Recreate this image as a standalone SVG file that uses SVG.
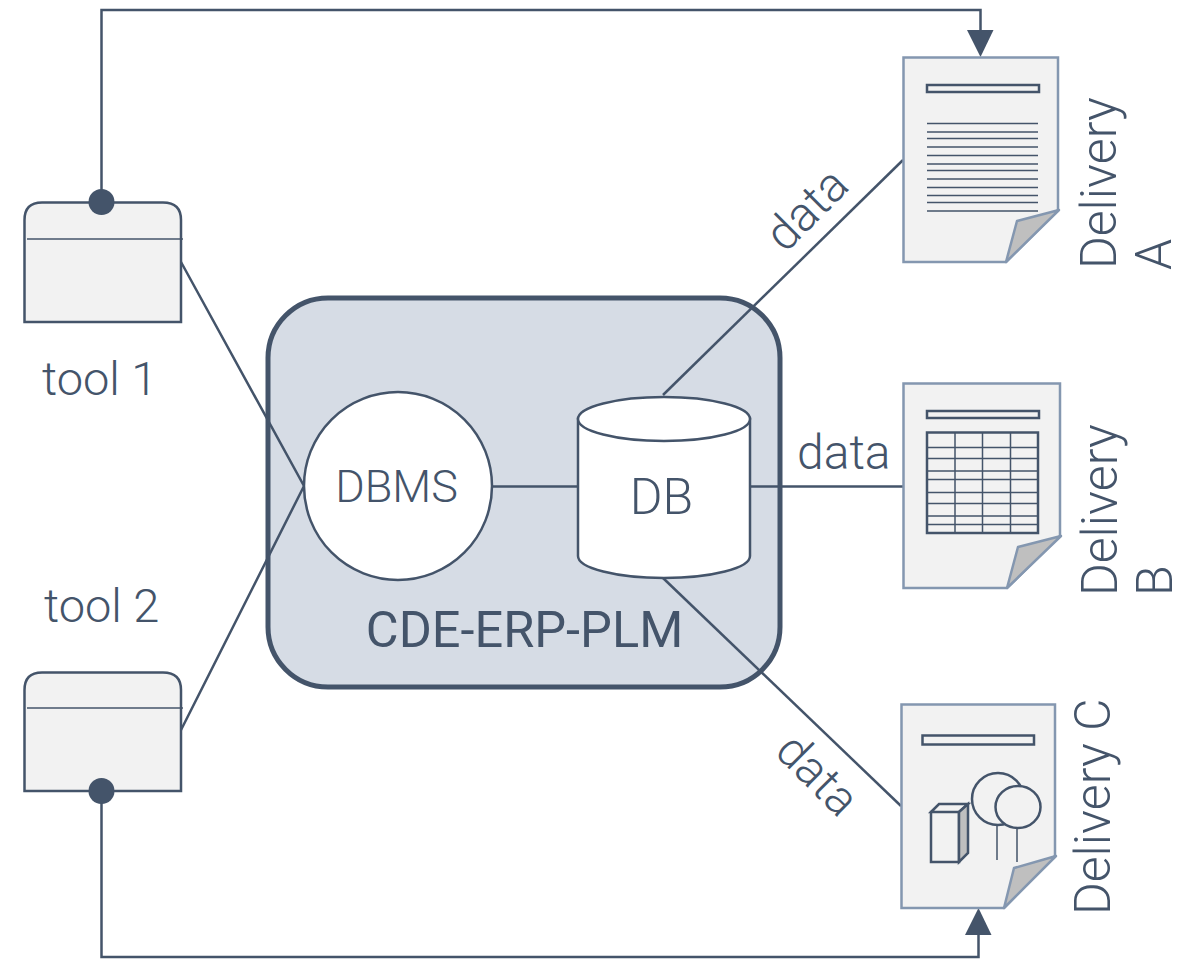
<svg xmlns="http://www.w3.org/2000/svg" width="1178" height="959" viewBox="0 0 1178 959">
<style>
text{font-family:"Roboto","Liberation Sans",sans-serif;font-weight:300;fill:#44546a;font-size:47px}
.d{font-size:50px}
.w{font-size:48px}
.c{fill:none;stroke:#44546a;stroke-width:2.5}
.page{fill:#f2f2f2;stroke:#8497b0;stroke-width:2.5}
.fold{fill:#bfbfbf;stroke:#8497b0;stroke-width:2.5;stroke-linejoin:round}
.bar{fill:#f2f2f2;stroke:#44546a;stroke-width:2.5}
.thin{fill:none;stroke:#44546a;stroke-width:1.5}
.tool{fill:#f2f2f2;stroke:#44546a;stroke-width:2.5}
.m{fill:#44546a}
</style>
<g id="platform"><rect x="268" y="298" width="512" height="389" rx="60" fill="#d6dce5" stroke="#44546a" stroke-width="5"/>
<text x="524.500" y="647" text-anchor="middle" style="font-size:50.500px;font-weight:400">CDE-ERP-PLM</text></g>
<g id="connectors">
<path class="c" d="M101.500 202V10H980.500V32"/>
<path class="m" d="M967 30H993.500L980.500 57Z"/>
<path class="c" d="M101.500 791V957H978.500V934"/>
<path class="m" d="M965 935H991.500L978.500 908Z"/>
<path class="c" d="M181 262L304 486L181 730"/>
<path class="c" d="M492 486.500H578"/>
<path class="c" d="M750 486.500H903"/>
<path class="c" d="M663 395L903 160"/>
<path class="c" d="M663 578L901 806"/>
</g>
<g id="tool1"><path class="tool" d="M24.500 322V220Q24.500 202.500 42 202.500H163Q181 202.500 181 220V322Z"/><path class="thin" d="M27 239H183"/><circle class="m" cx="101.500" cy="202" r="13"/><text x="42" y="395">tool 1</text></g>
<g id="tool2"><path class="tool" d="M24.500 791V690Q24.500 672.500 42 672.500H163Q181 672.500 181 690V791Z"/><path class="thin" d="M27 708H183"/><circle class="m" cx="101.500" cy="791" r="13"/><text x="44" y="622">tool 2</text></g>
<g id="dbms"><circle cx="398" cy="486" r="94" fill="#fff" stroke="#44546a" stroke-width="2.500"/><text x="396.500" y="502" text-anchor="middle" style="font-size:45px">DBMS</text></g>
<g id="db"><path d="M578 419V556A86 22 0 0 0 750 556V419Z" fill="#fff" stroke="#44546a" stroke-width="2.500"/><ellipse cx="664" cy="419" rx="86" ry="22" fill="#fff" stroke="#44546a" stroke-width="2.500"/><text x="661.500" y="514" text-anchor="middle" class="d">DB</text></g>
<g id="delivery-a">
<path class="page" d="M1058 210V57.500H903.500V262H1006Z"/><path class="fold" d="M1006 262L1017 221L1059 210Z"/>
<rect class="bar" x="927" y="85" width="112" height="7"/>
<path class="thin" d="M927 123.500H1038M927 132H1038M927 138.500H1038M927 147H1038M927 155.500H1038M927 164H1038M927 170.500H1038M927 179H1038M927 187.500H1038M927 195.500H1038M927 202.500H1038M927 211H1038"/>
<text class="d" transform="translate(1116 269) rotate(-90)">Delivery</text>
<text class="d" transform="translate(1171 270) rotate(-90)">A</text>
</g>
<g id="delivery-b">
<path class="page" d="M1060 536V383.500H903.500V588H1007Z"/><path class="fold" d="M1007 588L1018 547L1061 536Z"/>
<rect class="bar" x="927" y="411" width="112" height="7"/>
<rect x="927" y="432.500" width="111" height="100.500" fill="none" stroke="#44546a" stroke-width="2.500"/>
<path class="thin" d="M927 447.500H1038M927 458.500H1038M927 471H1038M927 479.500H1038M927 492.500H1038M927 503.500H1038M927 516H1038M927 524.500H1038M955 432V533M982.500 432V533M1010.500 432V533"/>
<text class="d" transform="translate(1117 596) rotate(-90)">Delivery</text>
<text class="d" transform="translate(1172 596) rotate(-90)">B</text>
</g>
<g id="delivery-c">
<path class="page" d="M1055 856V704.500H901.500V908H1004Z"/><path class="fold" d="M1004 908L1014 868L1056 856Z"/>
<rect class="bar" x="922.500" y="735.500" width="111.500" height="9"/>
<path class="bar" d="M931 812H959V862H931ZM931 812L939 804H968L959 812Z"/>
<path d="M959 812L968 804V853L959 862Z" fill="#bfbfbf" stroke="#44546a" stroke-width="2.500"/>
<circle class="bar" cx="998" cy="799" r="26"/>
<ellipse class="bar" cx="1018" cy="807" rx="22.500" ry="21"/>
<path class="thin" d="M997 825V860M1017 828V862"/>
<text class="d" transform="translate(1110 915) rotate(-90)">Delivery C</text>
</g>
<g id="labels">
<text class="w" transform="translate(785 254) rotate(-45)">data</text>
<text class="w" x="797" y="469">data</text>
<text class="w" transform="translate(773 753) rotate(45)">data</text>
</g>
</svg>
